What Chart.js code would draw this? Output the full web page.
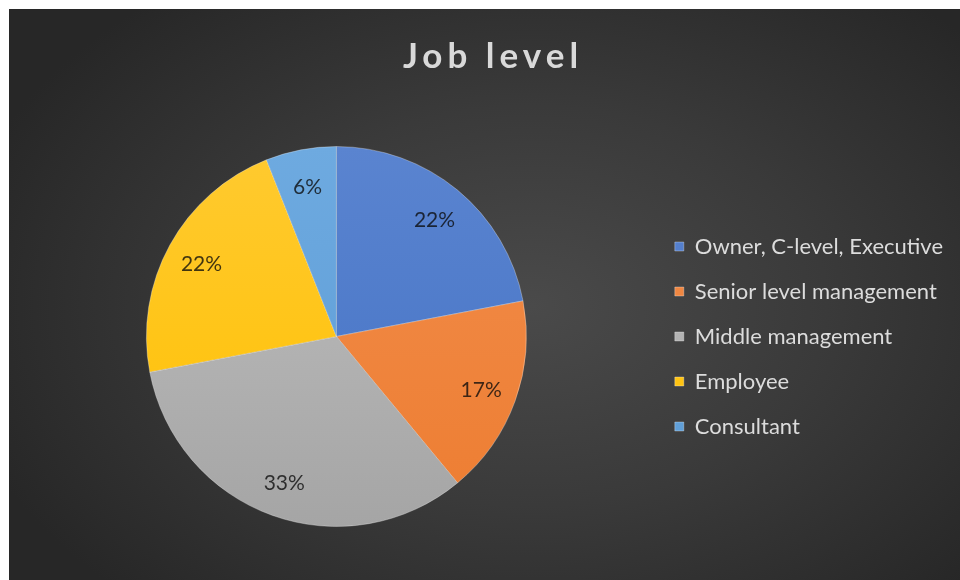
<!DOCTYPE html>
<html>
<head>
<meta charset="utf-8">
<script src="https://cdn.jsdelivr.net/npm/chart.js@4.4.1/dist/chart.umd.min.js"></script>
<style>
    html, body { margin: 0; padding: 0; background: #ffffff; }
    #wrap {
        position: absolute;
        left: 9px;
        top: 9px;
        width: 951px;
        height: 571px;
        background: radial-gradient(ellipse 62% 70% at 55% 52%, #4a4a4a 0%, #3a3a3a 50%, #272727 100%);
    }
</style>
</head>
<body>
<div id="wrap"><canvas id="jobLevel"></canvas></div>
<script>
// Job level split, percent of respondents
const levels = ['Owner, C-level, Executive', 'Senior level management', 'Middle management', 'Employee', 'Consultant'];
const shares = [22, 17, 33, 22, 6];
const sliceColors = ['#4472C4', '#ED7D31', '#A5A5A5', '#FFC000', '#5B9BD5'];
const sliceTops = ['#5a84d0', '#f28d4c', '#c0c0c0', '#ffca30', '#6eaae0'];

const FONT = 'Lato, "Open Sans", sans-serif';

// vertical shading on each slice, lighter at the top of the pie
function sliceFill(context) {
    const i = context.dataIndex;
    const area = context.chart.chartArea;
    if (!area) return sliceColors[i];
    const g = context.chart.ctx.createLinearGradient(0, area.top, 0, area.bottom);
    g.addColorStop(0, sliceTops[i]);
    g.addColorStop(1, sliceColors[i]);
    return g;
}

// percent labels inside each slice
const sliceLabels = {
    id: 'sliceLabels',
    afterDatasetsDraw(chart) {
        const ctx = chart.ctx;
        const meta = chart.getDatasetMeta(0);
        ctx.save();
        ctx.font = '21px ' + FONT;
        ctx.fillStyle = 'rgba(10,10,10,0.78)';
        ctx.textAlign = 'center';
        ctx.textBaseline = 'middle';
        meta.data.forEach((arc, i) => {
            const p = arc.getProps(['x', 'y', 'startAngle', 'endAngle', 'outerRadius']);
            const mid = (p.startAngle + p.endAngle) / 2;
            const r = p.outerRadius * 0.81;
            ctx.fillText(shares[i] + '%', p.x + Math.cos(mid) * r, p.y + Math.sin(mid) * r + 2);
        });
        ctx.restore();
    }
};

// spaced-out title lettering
const titleSpacing = {
    id: 'titleSpacing',
    beforeDraw(chart) {
        const tb = chart.titleBlock;
        if (!tb || tb._spaced) return;
        const orig = tb.draw.bind(tb);
        tb.draw = function () {
            chart.ctx.save();
            chart.ctx.letterSpacing = '5px';
            chart.ctx.translate(6, 0);
            orig();
            chart.ctx.restore();
        };
        tb._spaced = true;
    }
};

const chart = new Chart(document.getElementById('jobLevel'), {
    type: 'pie',
    data: {
        labels: levels,
        datasets: [{
            data: shares,
            backgroundColor: sliceFill,
            borderColor: 'rgba(255,255,255,0.3)',
            borderWidth: 1
        }]
    },
    options: {
        responsive: true,
        maintainAspectRatio: false,
        animation: false,
        layout: { padding: { left: 12, right: 7, top: 0, bottom: 53 } },
        plugins: {
            title: {
                display: true,
                text: 'Job level',
                color: '#d9d9d9',
                font: { family: FONT, size: 35, weight: 'bold' },
                padding: { top: 27, bottom: 68 }
            },
            legend: {
                position: 'right',
                fullSize: false,
                labels: {
                    color: '#dcdcdc',
                    font: { family: FONT, size: 22 },
                    boxWidth: 9,
                    boxHeight: 9,
                    padding: 23
                }
            },
            tooltip: { enabled: false }
        }
    },
    plugins: [sliceLabels, titleSpacing]
});
</script>
</body>
</html>
